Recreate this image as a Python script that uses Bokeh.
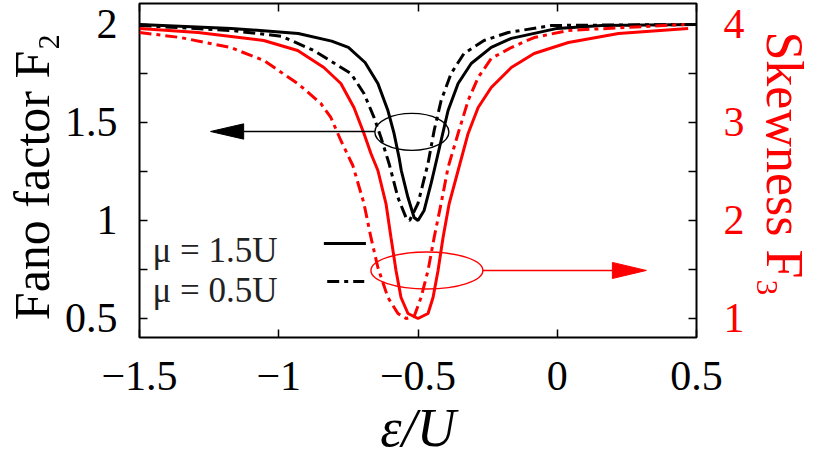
import math
from bokeh.plotting import figure
from bokeh.models import Range1d, LinearAxis, FixedTicker, Label
from bokeh.embed import file_html
from bokeh.resources import INLINE

# ---------------- data ----------------
x_ticks = [-1.5, -1.0, -0.5, 0.0, 0.5]
x_tick_labels = ["\u22121.5", "\u22121", "\u22120.5", "0", "0.5"]
f2_ticks = [0.5, 1.0, 1.5, 2.0]
f2_tick_labels = ["0.5", "1", "1.5", "2"]
f2_minor = [0.75, 1.25, 1.75]
f3_ticks = [1.0, 2.0, 3.0, 4.0]
f3_tick_labels = ["1", "2", "3", "4"]
f3_minor = [1.5, 2.5, 3.5]

x_title = "\u03b5/U"
left_title = "Fano factor  F\u2082"
right_title = "Skewness  F\u2083"

# Fano factor F2, mu = 1.5U (black solid)
eps_f2_mu15 = [-1.5, -1.17, -0.93, -0.81, -0.75, -0.69, -0.644, -0.608, -0.586, -0.568,
               -0.56, -0.536, -0.514, -0.5, -0.478, -0.453, -0.442, -0.417, -0.392,
               -0.356, -0.309, -0.237, -0.165, 0.0, 0.16, 0.5]
f2_mu15 = [2.0, 1.98, 1.954, 1.915, 1.883, 1.806, 1.699, 1.561, 1.444, 1.321,
           1.255, 1.117, 1.015, 1.0, 1.051, 1.189, 1.255, 1.408, 1.561,
           1.699, 1.801, 1.883, 1.929, 1.98, 1.995, 2.0]

# Fano factor F2, mu = 0.5U (black dash-dot)
eps_f2_mu05 = [-1.5, -1.17, -0.99, -0.874, -0.788, -0.741, -0.694, -0.658, -0.633, -0.604,
               -0.572, -0.543, -0.53, -0.5, -0.482, -0.464, -0.442, -0.417, -0.381,
               -0.335, -0.263, -0.176, -0.02, 0.5]
f2_mu05 = [1.995, 1.969, 1.94, 1.867, 1.791, 1.75, 1.648, 1.526, 1.423, 1.291,
           1.117, 1.015, 1.0, 1.087, 1.189, 1.291, 1.459, 1.612, 1.75,
           1.852, 1.918, 1.959, 1.995, 2.0]

# Skewness F3, mu = 1.5U (red solid)
eps_f3_mu15 = [-1.5, -1.29, -1.054, -0.932, -0.838, -0.777, -0.73, -0.694, -0.669, -0.644,
               -0.615, -0.597, -0.579, -0.561, -0.536, -0.5, -0.464, -0.446, -0.428,
               -0.41, -0.388, -0.356, -0.32, -0.284, -0.237, -0.165, -0.083, 0.04,
               0.22, 0.47]
f3_mu15 = [3.959, 3.918, 3.837, 3.735, 3.561, 3.398, 3.153, 2.888, 2.684, 2.51,
           2.173, 1.827, 1.49, 1.214, 1.051, 1.0, 1.051, 1.214, 1.49,
           1.827, 2.173, 2.51, 2.888, 3.153, 3.357, 3.561, 3.704, 3.816,
           3.908, 3.959]

# Skewness F3, mu = 0.5U (red dash-dot)
eps_f3_mu05 = [-1.5, -1.353, -1.173, -1.054, -0.932, -0.849, -0.813, -0.777, -0.734, -0.694,
               -0.669, -0.644, -0.608, -0.572, -0.543, -0.514, -0.489, -0.464, -0.442,
               -0.417, -0.392, -0.356, -0.32, -0.284, -0.237, -0.165, -0.083, 0.04, 0.457]
f3_mu05 = [3.918, 3.867, 3.765, 3.633, 3.398, 3.194, 3.051, 2.816, 2.561, 2.173,
           1.827, 1.52, 1.214, 1.051, 1.0, 1.02, 1.214, 1.49, 1.827,
           2.173, 2.541, 2.888, 3.224, 3.459, 3.653, 3.765, 3.867, 3.939, 4.0]

legend_texts = ["\u03bc = 1.5U", "\u03bc = 0.5U"]

# annotation geometry (data units of the left axis)
ellipse_x = [-0.522, -0.468]
ellipse_y = [1.452, 0.745]
ellipse_w = [0.266, 0.402]
ellipse_h = [0.189, 0.189]
arrow_start_x = [-0.655, -0.267]
arrow_tip_x = [-1.245, 0.320]
arrow_y = [1.454, 0.745]
arrow_head_len = [0.119, 0.122]
arrow_head_half = [0.039, 0.041]
annot_colors = ["black", "red"]
legend_line_x0 = -0.838
legend_line_x1 = -0.687
legend_line_y = [0.883, 0.689]

FONT = "Liberation Serif"
RED = "#ff0000"

p = figure(width=822, height=462, output_backend="svg", toolbar_location=None,
           x_range=Range1d(-1.5, 0.5), y_range=Range1d(0.403, 2.107),
           x_axis_location=None, y_axis_location=None,
           min_border_left=139, min_border_right=126,
           min_border_top=3, min_border_bottom=125)
p.extra_y_ranges = {"right": Range1d(0.806, 4.214)}
for g in p.grid:
    g.visible = False
p.outline_line_color = "black"
p.outline_line_width = 2
p.background_fill_color = "white"
p.border_fill_color = "white"


def style_axis(ax, color="black", standoff=20, show_labels=True):
    ax.axis_line_color = None
    ax.major_tick_in = 8
    ax.major_tick_out = 0
    ax.minor_tick_in = 8
    ax.minor_tick_out = 0
    ax.major_tick_line_color = "black"
    ax.minor_tick_line_color = "black"
    ax.major_tick_line_width = 1.5
    ax.minor_tick_line_width = 1.5
    ax.major_label_text_font = FONT
    ax.major_label_text_color = color
    ax.major_label_standoff = standoff if show_labels else 0
    ax.major_label_text_font_size = "42px" if show_labels else "0px"
    ax.axis_label_text_font = FONT
    ax.axis_label_text_font_style = "normal"


xb = LinearAxis(ticker=FixedTicker(ticks=x_ticks),
                major_label_overrides=dict(zip(x_ticks, x_tick_labels)))
style_axis(xb, standoff=24)
xb.axis_label = x_title
xb.axis_label_text_font_size = "54px"
xb.axis_label_text_font_style = "italic"
xb.axis_label_standoff = 5
xb.axis_label_text_color = "black"
p.add_layout(xb, "below")

# top axis: ticks only (labels blanked)
xt = LinearAxis(ticker=FixedTicker(ticks=x_ticks),
                major_label_overrides={t: "" for t in x_ticks})
style_axis(xt, show_labels=False)
p.add_layout(xt, "above")

yl = LinearAxis(ticker=FixedTicker(ticks=f2_ticks, minor_ticks=f2_minor),
                major_label_overrides=dict(zip(f2_ticks, f2_tick_labels)))
style_axis(yl, standoff=22)
yl.axis_label = left_title
yl.axis_label_text_font_size = "50px"
yl.axis_label_standoff = 2
yl.axis_label_text_color = "black"
p.add_layout(yl, "left")

yr = LinearAxis(y_range_name="right",
                ticker=FixedTicker(ticks=f3_ticks, minor_ticks=f3_minor),
                major_label_overrides=dict(zip(f3_ticks, f3_tick_labels)))
style_axis(yr, color=RED, standoff=27)
yr.axis_label = right_title
yr.axis_label_text_font_size = "52px"
yr.axis_label_standoff = 8
yr.axis_label_text_color = RED
p.add_layout(yr, "right")

# curves
p.line(eps_f2_mu15, f2_mu15, line_color="black", line_width=3)
p.line(eps_f2_mu05, f2_mu05, line_color="black", line_width=3, line_dash="12 5 4 5")
p.line(eps_f3_mu15, f3_mu15, line_color=RED, line_width=3, y_range_name="right")
p.line(eps_f3_mu05, f3_mu05, line_color=RED, line_width=3, line_dash="12 5 4 5",
       y_range_name="right")

# annotations: ellipses and arrows
p.ellipse(x=ellipse_x, y=ellipse_y, width=ellipse_w, height=ellipse_h,
          fill_color=None, line_color=annot_colors, line_width=1.4)
for i in range(2):
    sign = 1 if arrow_tip_x[i] < arrow_start_x[i] else -1
    base_x = arrow_tip_x[i] + sign * arrow_head_len[i]
    p.segment(x0=[arrow_start_x[i]], y0=[arrow_y[i]], x1=[base_x], y1=[arrow_y[i]],
              line_color=annot_colors[i], line_width=1.4)
    p.patch([arrow_tip_x[i], base_x, base_x],
            [arrow_y[i], arrow_y[i] + arrow_head_half[i], arrow_y[i] - arrow_head_half[i]],
            fill_color=annot_colors[i], line_color=annot_colors[i], line_width=1)

# legend samples
p.segment(x0=[legend_line_x0], y0=[legend_line_y[0]], x1=[legend_line_x1], y1=[legend_line_y[0]],
          line_color="black", line_width=3)
p.segment(x0=[legend_line_x0 + 0.012], y0=[legend_line_y[1]], x1=[legend_line_x1 - 0.006],
          y1=[legend_line_y[1]], line_color="black", line_width=3, line_dash="12 5 4 5")

# legend texts (screen coordinates relative to the plot frame, y from its bottom)
for txt, ys in zip(legend_texts, [87, 47]):
    p.add_layout(Label(x=13, y=ys, x_units="screen", y_units="screen", text=txt,
                       text_font=FONT, text_font_size="35px",
                       text_color="#222222", text_baseline="alphabetic"))

open("out.html", "w").write(file_html(p, INLINE))
